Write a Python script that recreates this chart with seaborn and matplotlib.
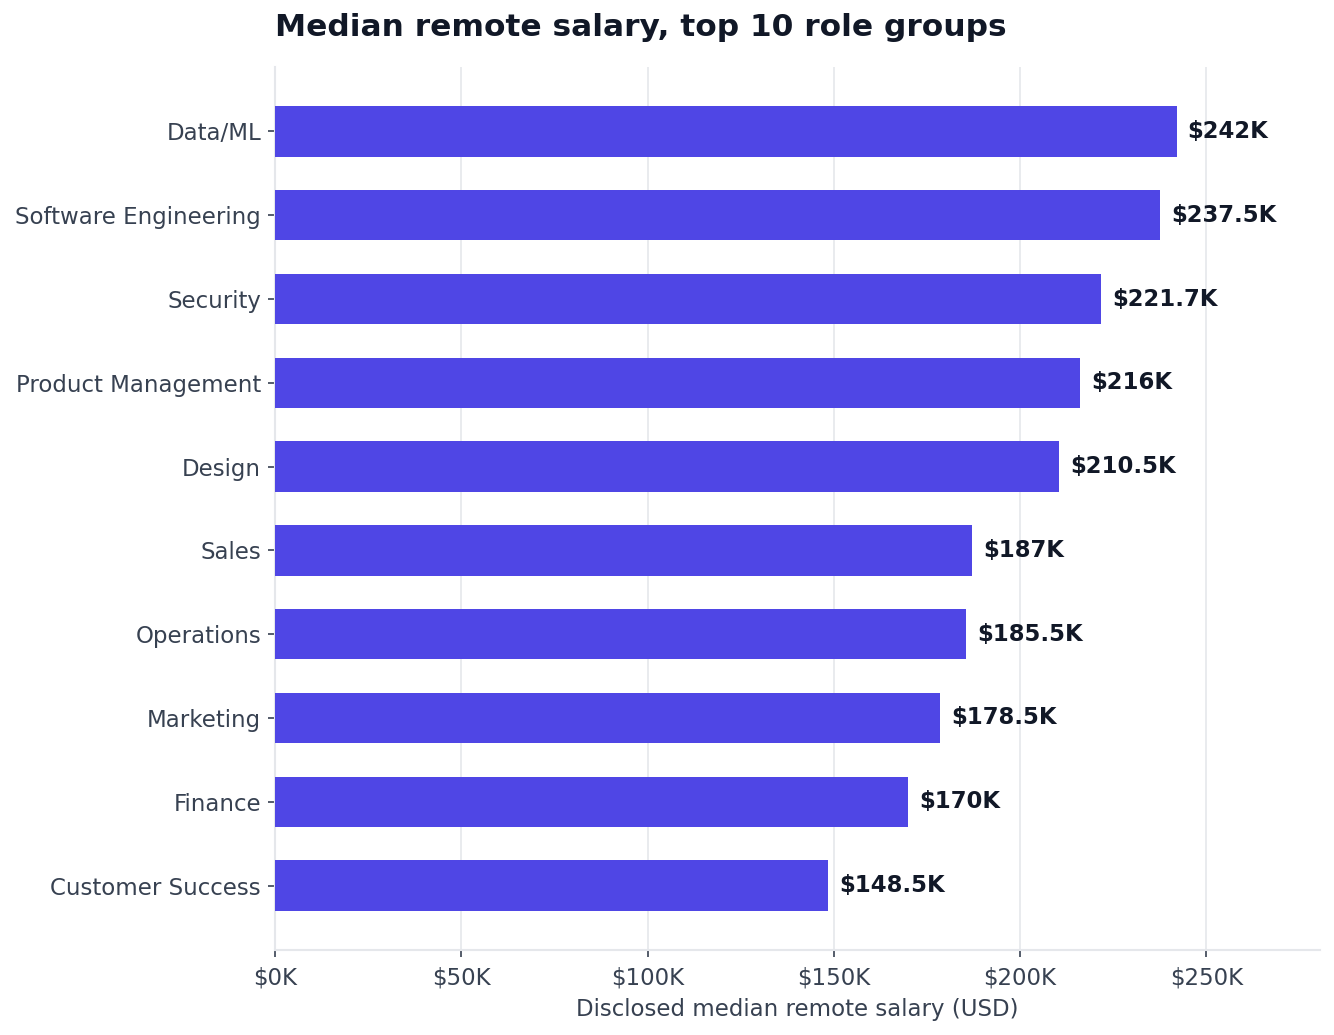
import pandas as pd
import matplotlib
matplotlib.use("Agg")
import matplotlib.pyplot as plt
import seaborn as sns
from matplotlib.ticker import FuncFormatter

# Chart data (values in thousands of USD)
roles = ["Data/ML", "Software Engineering", "Security", "Product Management", "Design",
         "Sales", "Operations", "Marketing", "Finance", "Customer Success"]
median_salary_k = [242, 237.5, 221.7, 216, 210.5, 187, 185.5, 178.5, 170, 148.5]

df = pd.DataFrame({"role": roles, "salary": [v * 1000 for v in median_salary_k]})

sns.set_theme(style="white")
plt.rcParams['font.family'] = ['DejaVu Sans']

bar_color = "#4F46E5"
text_dark = "#111827"
text_gray = "#374151"
light = "#E5E7EB"

fig = plt.figure(figsize=(13.34, 10.35), dpi=100)
ax = fig.add_axes([0.2061, 0.0821, 0.7834, 0.8532])

sns.barplot(data=df, x="salary", y="role", color=bar_color, width=0.6,
            saturation=1, linewidth=0, ax=ax, zorder=3)

ax.set_xlim(0, 280500)
ax.set_ylim(len(roles) - 1 + 0.77, -0.77)
ax.set_xticks([0, 50000, 100000, 150000, 200000, 250000])
ax.xaxis.set_major_formatter(FuncFormatter(lambda v, p: f"${v/1000:.0f}K"))

ax.grid(axis="x", color=light, linewidth=1.2, zorder=0)
ax.grid(axis="y", visible=False)
for side in ["top", "right"]:
    ax.spines[side].set_visible(False)
for side in ["left", "bottom"]:
    ax.spines[side].set_color(light)
    ax.spines[side].set_linewidth(1.5)

ax.tick_params(axis="both", colors=text_gray, labelsize=16.5, length=5, width=1.2,
               left=True, bottom=True)
ax.tick_params(axis="y", pad=5)
ax.tick_params(axis="x", pad=7)

ax.set_ylabel("")
ax.set_xlabel("Disclosed median remote salary (USD)", fontsize=16.5, color=text_gray, labelpad=6)

for i, v in enumerate(median_salary_k):
    ax.text(v * 1000 + 3000, i, f"${v:g}K", va="center", ha="left",
            fontsize=16.4, fontweight="bold", color=text_dark, zorder=4)

ax.set_title("Median remote salary, top 10 role groups", loc="left", fontsize=22.5,
             fontweight="bold", color=text_dark, pad=22)

fig.savefig("out.png", dpi=100)
